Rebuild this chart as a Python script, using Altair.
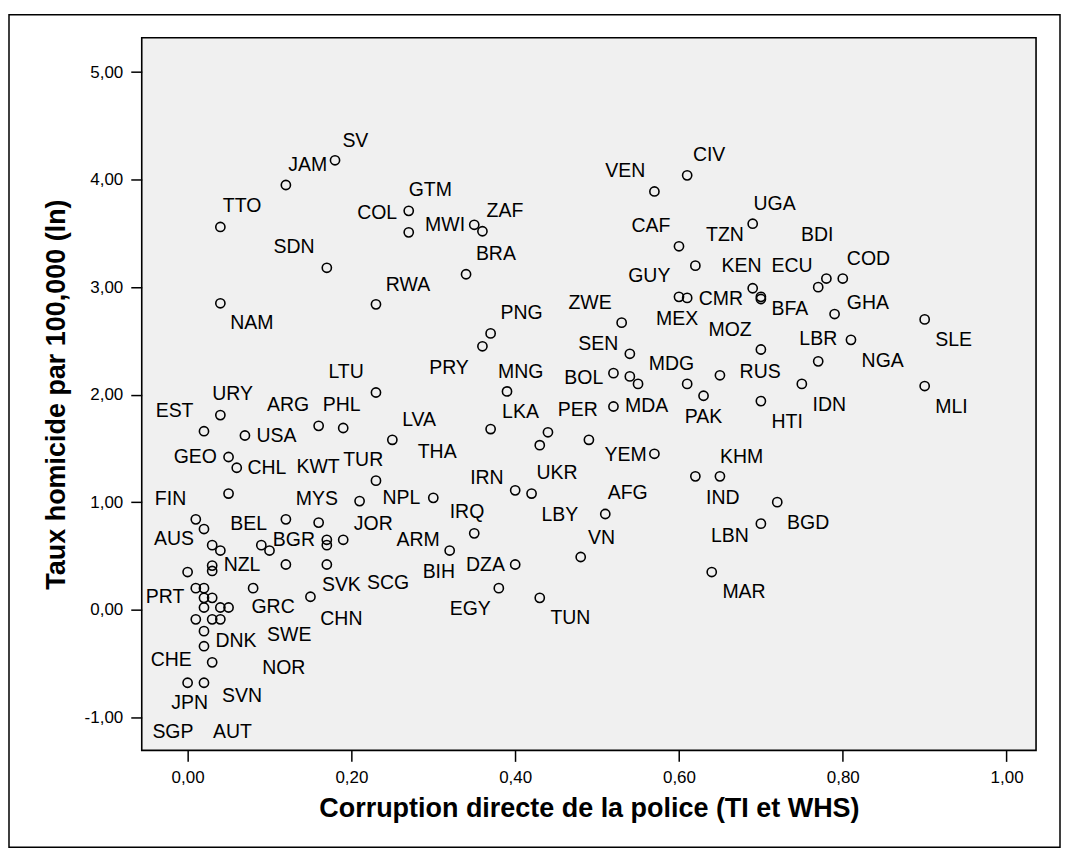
import altair as alt
import pandas as pd

# ---- data ----
# scatter points: x = corruption directe de la police, y = taux homicide (ln)
pt_x = [0.18, 0.12, 0.04, 0.27, 0.27, 0.17, 0.04, 0.23, 0.35, 0.36,
        0.34, 0.57, 0.61, 0.69, 0.60, 0.62, 0.60, 0.61, 0.69, 0.70,
        0.70, 0.77, 0.78, 0.80, 0.79, 0.90, 0.70, 0.81, 0.77, 0.75,
        0.70, 0.90, 0.53, 0.37, 0.36, 0.54, 0.39, 0.52, 0.54, 0.55,
        0.61, 0.65, 0.63, 0.52, 0.37, 0.44, 0.43, 0.49, 0.57, 0.62,
        0.65, 0.40, 0.42, 0.72, 0.51, 0.70, 0.35, 0.32, 0.40, 0.48,
        0.64, 0.38, 0.43, 0.23, 0.04, 0.02, 0.07, 0.16, 0.19, 0.25,
        0.05, 0.06, 0.23, 0.05, 0.21, 0.30, 0.01, 0.02, 0.12, 0.16,
        0.19, 0.17, 0.17, 0.03, 0.04, 0.09, 0.10, 0.03, 0.03, 0.00,
        0.12, 0.17, 0.01, 0.02, 0.08, 0.15, 0.02, 0.03, 0.02, 0.04,
        0.05, 0.01, 0.03, 0.04, 0.02, 0.02, 0.03, 0.00, 0.02]
pt_y = [4.18, 3.95, 3.56, 3.71, 3.51, 3.18, 2.85, 2.84, 3.58, 3.52,
        3.12, 3.89, 4.04, 3.59, 3.38, 3.20, 2.91, 2.90, 2.99, 2.91,
        2.89, 3.00, 3.08, 3.08, 2.75, 2.70, 2.42, 2.51, 2.31, 2.10,
        1.94, 2.08, 2.67, 2.57, 2.45, 2.38, 2.03, 2.20, 2.17, 2.10,
        2.10, 2.18, 1.99, 1.89, 1.68, 1.65, 1.53, 1.58, 1.45, 1.24,
        1.24, 1.11, 1.08, 1.00, 0.89, 0.80, 0.71, 0.55, 0.42, 0.49,
        0.35, 0.20, 0.11, 2.02, 1.81, 1.66, 1.62, 1.71, 1.69, 1.58,
        1.42, 1.32, 1.20, 1.08, 1.01, 1.04, 0.84, 0.75, 0.84, 0.81,
        0.65, 0.65, 0.60, 0.60, 0.55, 0.60, 0.55, 0.41, 0.36, 0.35,
        0.42, 0.42, 0.20, 0.20, 0.20, 0.12, 0.11, 0.11, 0.02, 0.02,
        0.02, -0.09, -0.09, -0.09, -0.20, -0.34, -0.49, -0.68, -0.68]

# country labels and where each one sits (data units, left edge / middle)
lab_text = ["SV", "JAM", "TTO", "GTM", "COL", "MWI", "ZAF", "SDN", "RWA", "NAM",
            "BRA", "VEN", "CIV", "CAF", "TZN", "UGA", "BDI", "KEN", "ECU", "COD",
            "GUY", "CMR", "BFA", "GHA", "ZWE", "MEX", "MOZ", "PNG", "SEN", "SLE",
            "LBR", "NGA", "PRY", "MNG", "MDG", "RUS", "BOL", "LTU", "IDN", "HTI",
            "MLI", "URY", "EST", "ARG", "PHL", "LVA", "USA", "MDA", "LKA", "PER",
            "PAK", "GEO", "CHL", "KWT", "TUR", "THA", "YEM", "KHM", "UKR", "IRN",
            "AFG", "IND", "FIN", "MYS", "NPL", "IRQ", "LBY", "BGD", "BEL", "JOR",
            "LBN", "VN", "AUS", "BGR", "ARM", "NZL", "DZA", "BIH", "SCG", "SVK",
            "MAR", "PRT", "GRC", "EGY", "TUN", "CHN", "SWE", "DNK", "CHE", "NOR",
            "SVN", "JPN", "SGP", "AUT"]
lab_x = [0.189, 0.123, 0.043, 0.270, 0.207, 0.290, 0.365, 0.105, 0.242, 0.052,
         0.352, 0.510, 0.617, 0.542, 0.633, 0.691, 0.749, 0.652, 0.713, 0.805,
         0.538, 0.624, 0.713, 0.805, 0.465, 0.572, 0.636, 0.382, 0.477, 0.913,
         0.747, 0.823, 0.295, 0.379, 0.563, 0.674, 0.460, 0.172, 0.763, 0.713,
         0.913, 0.030, -0.039, 0.097, 0.165, 0.262, 0.084, 0.534, 0.384, 0.452,
         0.607, -0.017, 0.073, 0.133, 0.190, 0.281, 0.509, 0.650, 0.426, 0.345,
         0.513, 0.633, -0.040, 0.132, 0.238, 0.320, 0.432, 0.732, 0.052, 0.203,
         0.639, 0.489, -0.041, 0.104, 0.255, 0.044, 0.340, 0.287, 0.219, 0.164,
         0.653, -0.051, 0.078, 0.320, 0.443, 0.162, 0.097, 0.034, -0.045, 0.091,
         0.042, -0.020, -0.043, 0.031]
lab_y = [4.364, 4.132, 3.751, 3.906, 3.689, 3.575, 3.705, 3.373, 3.018, 2.662,
         3.312, 4.076, 4.225, 3.565, 3.488, 3.776, 3.482, 3.197, 3.201, 3.262,
         3.104, 2.894, 2.801, 2.853, 2.853, 2.702, 2.600, 2.760, 2.467, 2.507,
         2.513, 2.312, 2.244, 2.213, 2.284, 2.210, 2.157, 2.207, 1.903, 1.748,
         1.888, 2.006, 1.851, 1.903, 1.903, 1.764, 1.616, 1.894, 1.841, 1.857,
         1.789, 1.423, 1.321, 1.331, 1.393, 1.470, 1.439, 1.423, 1.275, 1.223,
         1.084, 1.043, 1.031, 1.031, 1.037, 0.913, 0.885, 0.805, 0.796, 0.796,
         0.687, 0.669, 0.659, 0.650, 0.650, 0.411, 0.418, 0.350, 0.248, 0.226,
         0.161, 0.114, 0.021, 0.006, -0.077, -0.084, -0.232, -0.288, -0.471, -0.541,
         -0.799, -0.866, -1.139, -1.139]

x_ticks = [0.0, 0.2, 0.4, 0.6, 0.8, 1.0]
y_ticks = [-1, 0, 1, 2, 3, 4, 5]
x_domain = [-0.056, 1.036]
y_domain = [-1.309, 5.320]

points = pd.DataFrame({"x": pt_x, "y": pt_y})
labels = pd.DataFrame({"code": lab_text, "x": lab_x, "y": lab_y})

FONT = "Liberation Sans"
comma_fmt = "(datum.value < 0 ? '-' : '') + replace(format(abs(datum.value), '.2f'), '.', ',')"

xs = alt.Scale(domain=x_domain, nice=False, zero=False)
ys = alt.Scale(domain=y_domain, nice=False, zero=False)

x_axis = alt.Axis(values=x_ticks, labelExpr=comma_fmt, grid=False, domain=False,
                  tickSize=11, tickColor="black", tickWidth=1.5,
                  labelFont=FONT, labelFontSize=17, labelColor="black", labelPadding=8,
                  title="Corruption directe de la police (TI et WHS)",
                  titleFont=FONT, titleFontSize=27, titleFontWeight="bold", titleColor="black",
                  titleX=448, titleY=58, titleBaseline="middle", titleAlign="center")
y_axis = alt.Axis(values=y_ticks, labelExpr=comma_fmt, grid=False, domain=False,
                  tickSize=11, tickColor="black", tickWidth=1.5,
                  labelFont=FONT, labelFontSize=17, labelColor="black", labelPadding=8,
                  title="Taux homicide par 100,000 (ln)",
                  titleFont=FONT, titleFontSize=27, titleFontWeight="bold", titleColor="black",
                  titleX=-85, titleY=357, titleAngle=-90, titleBaseline="middle", titleAlign="center")

pts = alt.Chart(points).mark_point(shape="circle", filled=False, color="black",
                                   size=85, strokeWidth=1.6, opacity=1).encode(
    x=alt.X("x:Q", scale=xs, axis=x_axis),
    y=alt.Y("y:Q", scale=ys, axis=y_axis),
)

txt = alt.Chart(labels).mark_text(font=FONT, fontSize=19.5, color="black",
                                  align="left", baseline="middle").encode(
    x=alt.X("x:Q", scale=xs),
    y=alt.Y("y:Q", scale=ys),
    text="code:N",
)

frame = alt.Chart(alt.Data(values=[{"a": 1}])).mark_rect(
    fill=None, stroke="black", strokeWidth=1.5).encode(
    x=alt.value(-133), x2=alt.value(920), y=alt.value(-23), y2=alt.value(811)
)

chart = alt.layer(frame, pts, txt).properties(
    width=896, height=714,
    autosize=alt.AutoSizeParams(type="none"),
    padding={"left": 134, "top": 29, "right": 25, "bottom": 98},
    background="white",
).configure_view(fill="#F0F0F0", stroke="black", strokeWidth=1.6)

chart.save("out.html", embed_options={"renderer": "svg", "actions": False})
